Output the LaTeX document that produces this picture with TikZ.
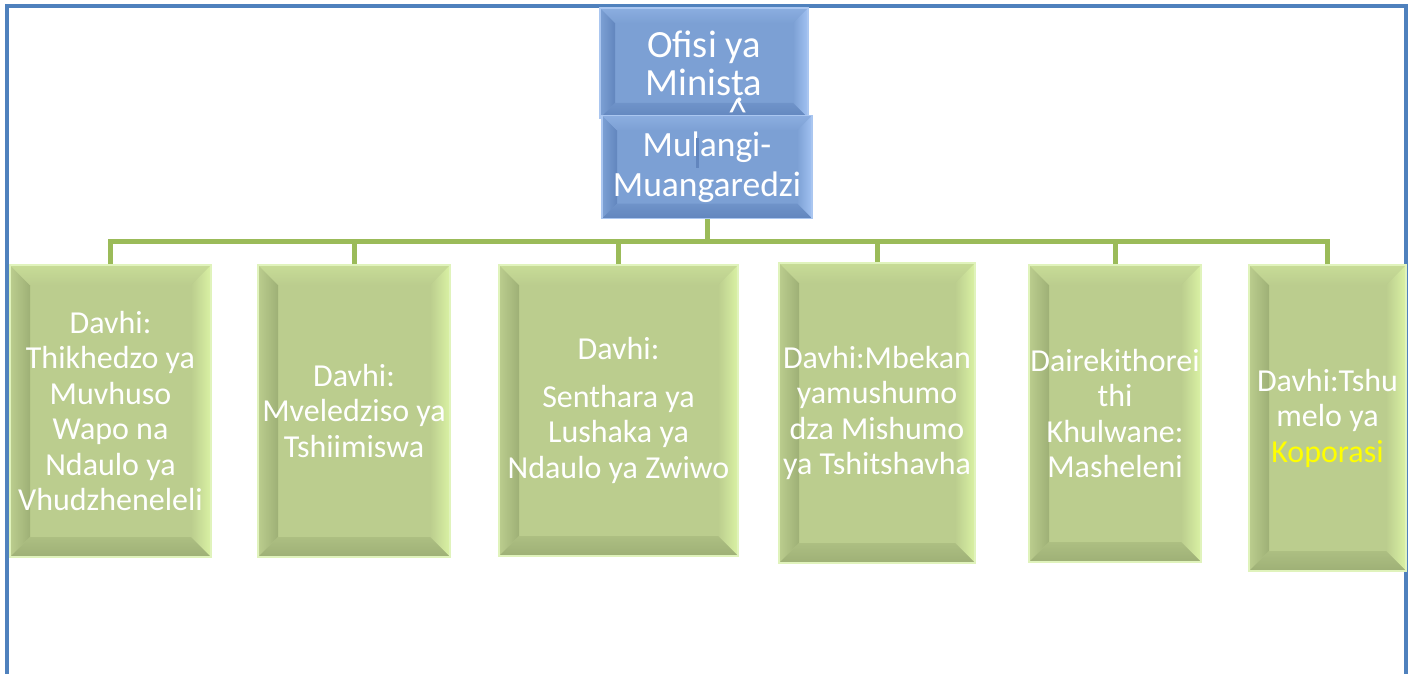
\documentclass[tikz,border=0pt]{standalone}
\usepackage{fontspec}
\setmainfont{Carlito}
\usetikzlibrary{calc}

\definecolor{frameblue}{RGB}{79,129,189}
\definecolor{busgreen}{RGB}{155,187,89}
\definecolor{gbase}{RGB}{187,205,142}
\definecolor{gdark}{RGB}{158,176,118}
\definecolor{glight}{RGB}{218,242,164}
\definecolor{gedge}{RGB}{224,243,188}
\definecolor{bbase}{RGB}{124,160,212}
\definecolor{bdark}{RGB}{98,134,190}
\definecolor{blight}{RGB}{162,194,242}
\definecolor{bedge}{RGB}{170,198,240}
\definecolor{kopo}{RGB}{255,255,0}

% bevelled box: depth, dark, light, base
\tikzset{
  bevel/.style n args={4}{path picture={
    \coordinate (pa) at (path picture bounding box.north west);
    \coordinate (pb) at (path picture bounding box.north east);
    \coordinate (pc) at (path picture bounding box.south east);
    \coordinate (pd) at (path picture bounding box.south west);
    \coordinate (qa) at ($(pa)+(#1,-#1)$);
    \coordinate (qb) at ($(pb)+(-#1,-#1)$);
    \coordinate (qc) at ($(pc)+(-#1,#1)$);
    \coordinate (qd) at ($(pd)+(#1,#1)$);
    \shade[left color=#4, right color=#2] (pa) -- (qa) -- (qd) -- (pd) -- cycle;
    \shade[top color=#3!40!#4, bottom color=#4] (pa) -- (pb) -- (qb) -- (qa) -- cycle;
    \shade[left color=#4, right color=#3] (pb) -- (pc) -- (qc) -- (qb) -- cycle;
    \shade[top color=#2!50!#4, bottom color=#2] (pd) -- (qd) -- (qc) -- (pc) -- cycle;
  }},
  greenbox/.style n args={2}{rectangle, fill=gbase, draw=gedge, line width=2pt,
    minimum width=#1, minimum height=#2, inner sep=0pt, align=center,
    text=white, font=\fontsize{32}{35.5}\selectfont,
    bevel={20pt}{gdark}{glight}{gbase}},
  bluebox/.style n args={2}{rectangle, fill=bbase, draw=bedge, line width=1.5pt,
    minimum width=#1, minimum height=#2, inner sep=0pt, align=center,
    text=white, font=\fontsize{35.5}{39.5}\selectfont,
    bevel={15pt}{bdark}{blight}{bbase}},
  bus/.style={busgreen, line width=5pt},
  frame/.style={frameblue, line width=3.5pt},
}

\begin{document}
\begin{tikzpicture}[x=1pt, y=-1pt]
  \useasboundingbox (0,0) rectangle (1411,674);

  % outer frame
  \draw[frame] (7,680) -- (7,6) -- (1406,6) -- (1406,680);

  % top of the chart
  \node[bluebox={208pt}{110pt}] (ofisi) at (704,63) {};
  \node[bluebox={210pt}{103pt}] (mulangi) at (707,167)
    {Mulangi-\\Muangaredzi};
  \node[text=white, font=\fontsize{38.5}{38}\selectfont, align=center, inner sep=0pt]
    (ofisitxt) at (704,66)
    {Ofisi ya\\Minis\d{t}\llap{\smash{\raisebox{-0.8em}{\makebox[0.33em]{\^{}}}}}a};
  \draw[bdark, line width=3pt] ([xshift=-10pt, yshift=-23pt]mulangi.north) -- ++(0,30);

  % branches
  \node[greenbox={201pt}{292pt}] (b1) at (110.5,411)
    {Davhi:\\Thikhedzo ya\\Muvhuso\\Wapo na\\Ndaulo ya\\Vhudzheneleli};
  \node[greenbox={192pt}{292pt}] (b2) at (354,411)
    {Davhi:\\Mveledziso ya\\Tshiimiswa};
  \node[greenbox={239pt}{291pt}] (b3) at (618.5,410.5)
    {Davhi:\\[12pt]Senthara ya\\Lushaka ya\\Ndaulo ya Zwiwo};
  \node[greenbox={196pt}{300pt}] (b4) at (877,413)
    {Davhi:Mbekan\\yamushumo\\dza Mishumo\\ya Tshitshavha};
  \node[greenbox={172pt}{297pt}] (b5) at (1115,413.5)
    {Dairekithorei\\thi\\Khulwane:\\Masheleni};
  \node[greenbox={157pt}{306pt}] (b6) at (1327.5,418)
    {Davhi:Tshu\\melo ya\\\textcolor{kopo}{Koporasi}};

  % connectors
  \coordinate (hub) at (707,241);
  \draw[bus] (mulangi.south) -- (hub);
  \foreach \i in {1,...,6}
    \draw[bus] (b\i.north) |- (hub);
\end{tikzpicture}
\end{document}
